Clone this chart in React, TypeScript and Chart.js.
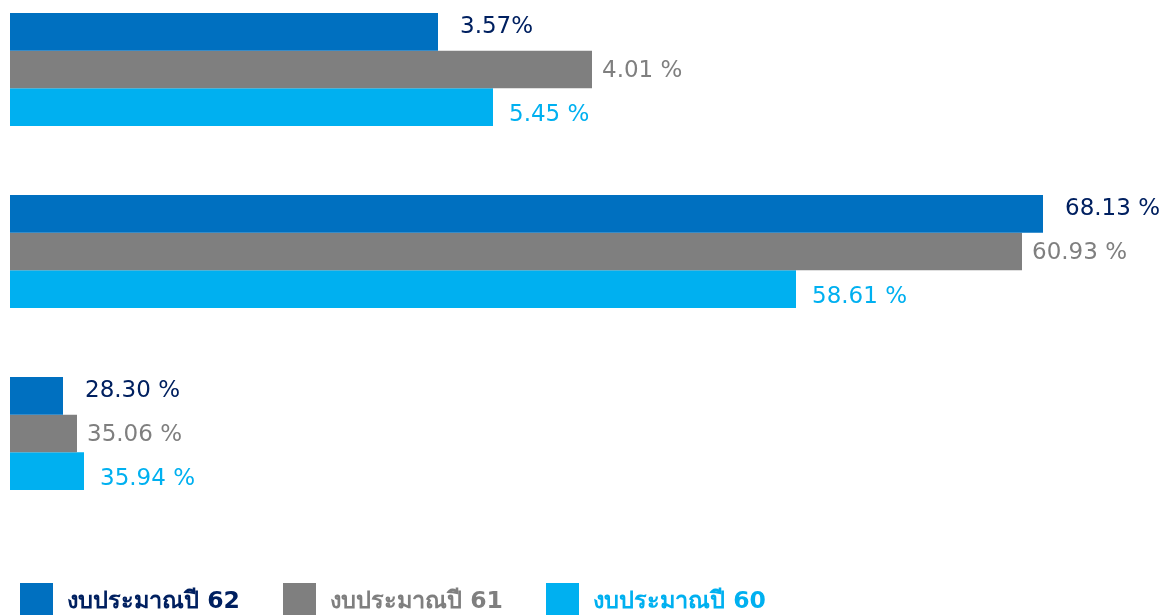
import React, { useEffect, useRef } from "react";
import { Chart, registerables } from "chart.js";

Chart.register(...registerables);

// Categories (not shown on the picture)
const categories = ["กลุ่มที่ 1", "กลุ่มที่ 2", "กลุ่มที่ 3"];

// Series names (legend)
const seriesNames = ["งบประมาณปี 62", "งบประมาณปี 61", "งบประมาณปี 60"];

// Bar lengths as drawn (relative amounts)
const bar62 = [428, 1033, 53];
const bar61 = [582, 1012, 67];
const bar60 = [483, 786, 74];

// Percentage labels as printed
const pct62 = ["3.57%", "68.13 %", "28.30 %"];
const pct61 = ["4.01 %", "60.93 %", "35.06 %"];
const pct60 = ["5.45 %", "58.61 %", "35.94 %"];

const barColors = ["#0070C0", "#7F7F7F", "#00B0F0"];
const textColors = ["#002060", "#7F7F7F", "#00B0F0"];
const labelDx = [22, 10, 16];
const labelDy = [-5, 2, 8];

const barValues = [bar62, bar61, bar60];
const pctLabels = [pct62, pct61, pct60];

const labelPlugin = {
  id: "barLabels",
  afterDatasetsDraw(chart: any) {
    const ctx = chart.ctx;
    chart.data.datasets.forEach((_ds: any, di: number) => {
      const meta = chart.getDatasetMeta(di);
      meta.data.forEach((bar: any, i: number) => {
        const { x, y } = bar.getProps(["x", "y"], true);
        ctx.save();
        ctx.font = "23px 'DejaVu Sans', sans-serif";
        ctx.fillStyle = textColors[di];
        ctx.textBaseline = "middle";
        ctx.textAlign = "left";
        ctx.fillText(pctLabels[di][i], x + labelDx[di], y + labelDy[di]);
        ctx.restore();
      });
    });
  },
};

export default function App() {
  const canvasRef = useRef<HTMLCanvasElement | null>(null);

  useEffect(() => {
    document.body.style.margin = "0";
    const canvas = canvasRef.current;
    if (!canvas) return;
    const chart = new Chart(canvas, {
      type: "bar",
      data: {
        labels: categories,
        datasets: seriesNames.map((name, i) => ({
          label: name,
          data: barValues[i],
          backgroundColor: barColors[i],
          borderWidth: 0,
          categoryPercentage: 0.62,
          barPercentage: 1.0,
          clip: false,
        })),
      },
      options: {
        indexAxis: "y",
        responsive: false,
        animation: false,
        events: [],
        layout: { padding: { left: 10, right: 13, top: 69.5, bottom: 181.5 } },
        scales: {
          x: { display: false, min: 0, max: 1140, grid: { display: false } },
          y: { display: false, offset: false, grid: { display: false, offset: false } },
        },
        plugins: {
          legend: { display: false },
          tooltip: { enabled: false },
        },
      },
      plugins: [labelPlugin],
    });
    return () => chart.destroy();
  }, []);

  return (
    <div style={{ position: "relative", width: 1163, height: 615, overflow: "hidden", background: "#fff" }}>
      <canvas ref={canvasRef} width={1163} height={615} style={{ display: "block" }} />
      <div style={{ position: "absolute", left: 20, top: 581, display: "flex", alignItems: "flex-start" }}>
        {seriesNames.map((name, i) => (
          <div key={name} style={{ width: 263, display: "flex", alignItems: "center" }}>
            <div style={{ width: 33, height: 34, background: barColors[i], flex: "0 0 auto" }} />
            <span
              style={{
                marginLeft: 14,
                fontFamily: "'DejaVu Sans', 'Noto Sans', sans-serif",
                fontWeight: "bold",
                fontSize: 23.5,
                lineHeight: "38px",
                color: textColors[i],
                whiteSpace: "nowrap",
              }}
            >
              {name}
            </span>
          </div>
        ))}
      </div>
    </div>
  );
}
